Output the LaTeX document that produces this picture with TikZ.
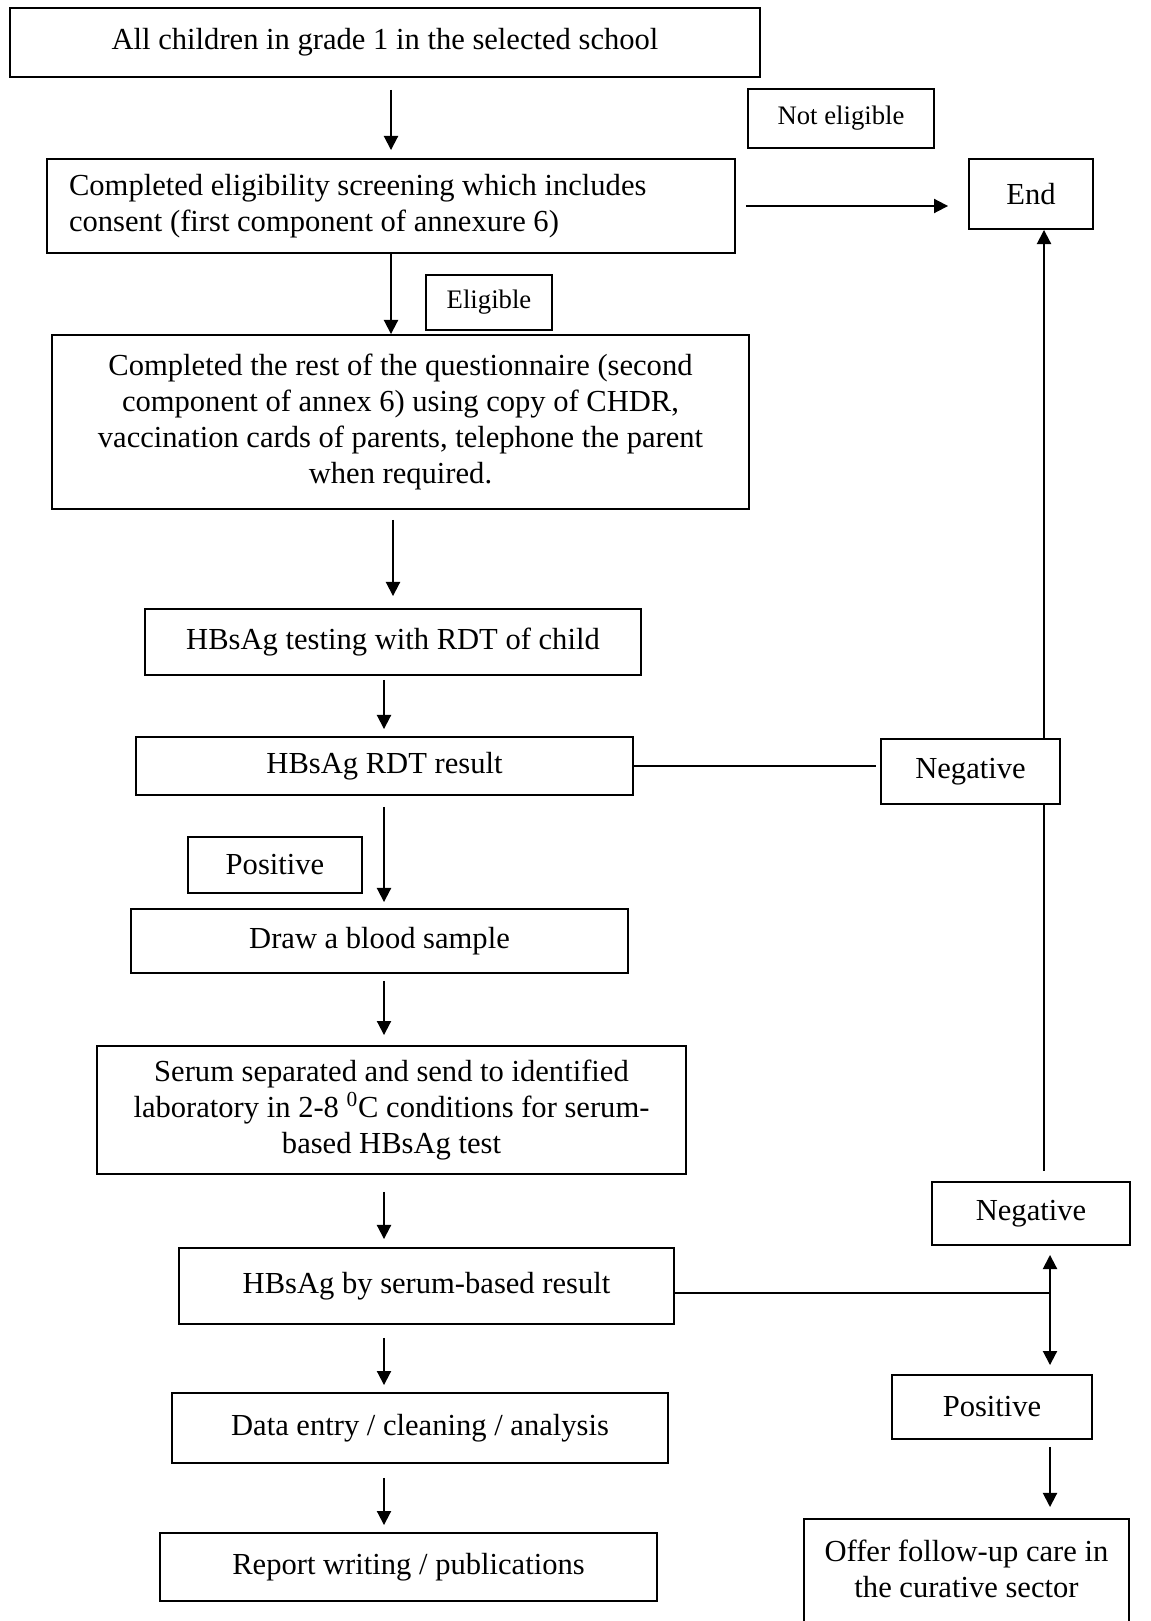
\documentclass[tikz,border=0pt]{standalone}
\usepackage{fontspec}
\setmainfont{Liberation Serif}
\usetikzlibrary{arrows.meta}

\tikzset{fcbox/.style={draw,line width=1.1pt,inner sep=0pt,align=center,font=\fontsize{17.4}{20.5}\selectfont},
         fctag/.style={fcbox,font=\fontsize{15.2}{18}\selectfont},
         fcline/.style={line width=1.1pt},
         fcarr/.style={fcline,-{Triangle[length=8pt,width=8pt]}},
         fcdbl/.style={fcline,{Triangle[length=8pt,width=8pt]}-{Triangle[length=8pt,width=8pt]}}}

\begin{document}
\begin{tikzpicture}[x=0.02cm,y=-0.02cm]
  \useasboundingbox (0,0) rectangle (1151,1621);
  % main column
  \node[fcbox,minimum width=15cm,minimum height=1.38cm] (all) at (385,42.5) {All children in grade 1 in the selected school};
  \node[fcbox,minimum width=13.76cm,minimum height=1.88cm,text width=12.88cm,align=flush left] (screen) at (391,206)
    {Completed eligibility screening which includes\\consent (first component of annexure 6)};
  \node[fcbox,minimum width=13.94cm,minimum height=3.48cm] (quest) at (400.5,422)
    {Completed the rest of the questionnaire (second\\component of annex 6) using copy of CHDR,\\vaccination cards of parents, telephone the parent\\when required.};
  \node[fcbox,minimum width=9.92cm,minimum height=1.32cm] (rdttest) at (393,642) {HBsAg testing with RDT of child};
  \node[fcbox,minimum width=9.94cm,minimum height=1.16cm] (rdtres) at (384.5,766) {HBsAg RDT result};
  \node[fcbox,minimum width=9.94cm,minimum height=1.28cm] (blood) at (379.5,941) {Draw a blood sample};
  \node[fcbox,minimum width=11.78cm,minimum height=2.56cm] (serum) at (391.5,1110)
    {Serum separated and send to identified\\laboratory in 2-8 \textsuperscript{0}C conditions for serum-\\based HBsAg test};
  \node[fcbox,minimum width=9.9cm,minimum height=1.52cm] (serres) at (426.5,1286) {HBsAg by serum-based result};
  \node[fcbox,minimum width=9.92cm,minimum height=1.4cm] (entry) at (420,1428) {Data entry / cleaning / analysis};
  \node[fcbox,minimum width=9.94cm,minimum height=1.36cm] (report) at (408.5,1567) {Report writing / publications};
  % labels and right side
  \node[fctag,minimum width=3.72cm,minimum height=1.18cm] (noteli) at (841,118.5) {Not eligible};
  \node[fctag,minimum width=2.52cm,minimum height=1.1cm] (elig) at (489,302.5) {Eligible};
  \node[fcbox,minimum width=3.48cm,minimum height=1.12cm] (pos1) at (275,865) {Positive};
  \node[fcbox,minimum width=2.48cm,minimum height=1.4cm] (end) at (1031,194) {End};
  \node[fcbox,minimum width=3.58cm,minimum height=1.3cm] (neg1) at (970.5,771.5) {Negative};
  \node[fcbox,minimum width=3.96cm,minimum height=1.26cm] (neg2) at (1031,1213.5) {Negative};
  \node[fcbox,minimum width=4cm,minimum height=1.28cm] (pos2) at (992,1407) {Positive};
  \node[fcbox,inner ysep=0.42cm,anchor=north] (offer) at (966.5,1518)
    {\parbox[t][2.2cm][t]{6.5cm}{\centering Offer follow-up care in\\the curative sector}};
  \coordinate (spine) at (384,0);
  \coordinate (rside) at (1044,0);
  \coordinate (jct) at (1050,1293);
  % connectors
  \draw[fcarr,shorten <=0.24cm,shorten >=0.16cm] (all.south -| screen) -- (screen.north);
  \draw[fcarr,shorten <=0.2cm,shorten >=0.4cm] (screen.east) -- (screen.east -| end.west);
  \draw[fcarr] (screen.south) -- (screen.south |- quest.north);
  \draw[fcarr,shorten <=0.2cm,shorten >=0.24cm] (quest.south -| rdttest) -- (rdttest.north);
  \draw[fcarr,shorten <=0.08cm,shorten >=0.14cm] (rdttest.south -| spine) -- (rdtres.north -| spine);
  \draw[fcline,shorten >=0.08cm] (rdtres.east) -- (rdtres.east -| neg1.west);
  \draw[fcarr,shorten <=0.22cm,shorten >=0.12cm] (rdtres.south -| spine) -- (blood.north -| spine);
  \draw[fcarr] (neg1.north -| rside) -- (end.south -| rside);
  \draw[fcline,shorten >=0.2cm] (neg1.south -| rside) -- (neg2.north -| rside);
  \draw[fcarr,shorten <=0.14cm,shorten >=0.2cm] (blood.south -| spine) -- (serum.north -| spine);
  \draw[fcarr,shorten <=0.34cm,shorten >=0.16cm] (serum.south -| spine) -- (serres.north -| spine);
  \draw[fcline] (serres.east |- jct) -- (jct);
  \draw[fcdbl,shorten <=0.18cm,shorten >=0.18cm] (neg2.south -| jct) -- (pos2.north -| jct);
  \draw[fcarr,shorten <=0.26cm,shorten >=0.14cm] (serres.south -| spine) -- (entry.north -| spine);
  \draw[fcarr,shorten <=0.28cm,shorten >=0.14cm] (entry.south -| spine) -- (report.north -| spine);
  \draw[fcarr,shorten <=0.14cm,shorten >=0.22cm] (pos2.south -| jct) -- (offer.north -| jct);
\end{tikzpicture}
\end{document}
